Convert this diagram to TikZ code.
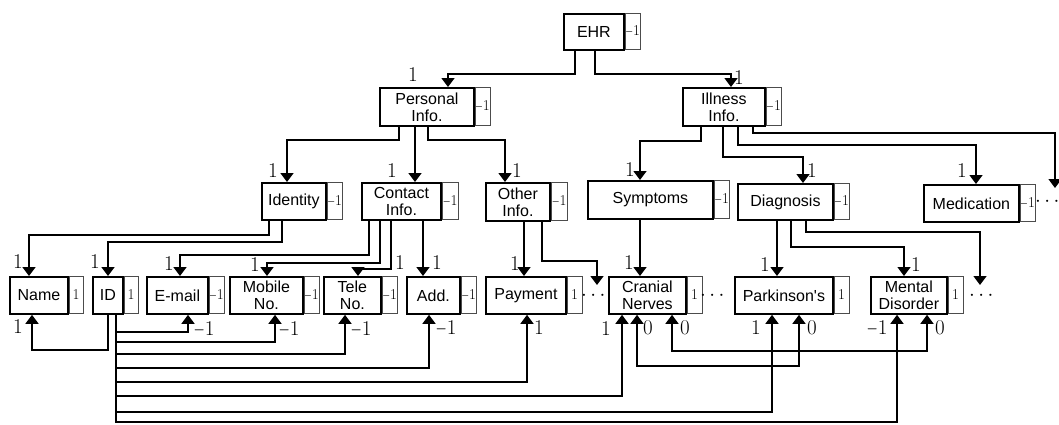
\documentclass[tikz,border=0pt]{standalone}
\usepackage{amsmath}
\usepackage{fontspec}
\newfontfamily\arialfont{Liberation Sans}
\usetikzlibrary{arrows.meta}
\newcommand{\mns}{\scalebox{0.7}[1]{$-$}}

\begin{document}
\begin{tikzpicture}[x=1pt, y=-1pt,
    box/.style={draw, line width=1.8pt, inner sep=0pt, align=center, anchor=north west, font=\arialfont\fontsize{16}{17}\selectfont},
    val/.style={draw=black!70, line width=0.7pt, inner sep=0pt, anchor=north west, font=\fontsize{15}{15}\selectfont},
    lbl/.style={inner sep=0pt, font=\fontsize{21}{21}\selectfont},
    arr/.style={line width=1.5pt, -{Triangle[width=13pt,length=9pt]}},
    biarr/.style={line width=1.5pt, {Triangle[width=13pt,length=9pt]}-{Triangle[width=13pt,length=9pt]}}]
    \useasboundingbox (0,0) rectangle (1059,424);

    % root
    \node [box, minimum width=60pt, minimum height=36pt] (ehr) at (563,13) {EHR};
    \node [val, minimum width=15pt, minimum height=36pt] (ehr-v) at (ehr.north east) {\mns1};

    % first level
    \node [box, minimum width=94pt, minimum height=38pt] (pers) at (379,87) {Personal\\Info.};
    \node [val, minimum width=14pt, minimum height=38pt] (pers-v) at (pers.north east) {\mns1};
    \node [box, minimum width=82pt, minimum height=38pt] (ill) at (682,87) {Illness\\Info.};
    \node [val, minimum width=14pt, minimum height=38pt] (ill-v) at (ill.north east) {\mns1};

    % second level
    \node [box, minimum width=64pt, minimum height=37pt] (ident) at (261,182) {Identity};
    \node [val, minimum width=15pt, minimum height=37pt] (ident-v) at (ident.north east) {\mns1};
    \node [box, minimum width=79pt, minimum height=37pt] (cont) at (361,182) {Contact\\Info.};
    \node [val, minimum width=16pt, minimum height=37pt] (cont-v) at (cont.north east) {\mns1};
    \node [box, minimum width=64pt, minimum height=38pt] (oth) at (485,182) {Other\\Info.};
    \node [val, minimum width=16pt, minimum height=38pt] (oth-v) at (oth.north east) {\mns1};
    \node [box, minimum width=125pt, minimum height=38pt] (symp) at (587,180) {Symptoms};
    \node [val, minimum width=15pt, minimum height=38pt] (symp-v) at (symp.north east) {\mns1};
    \node [box, minimum width=95pt, minimum height=36pt] (diag) at (737,183) {Diagnosis};
    \node [val, minimum width=14pt, minimum height=36pt] (diag-v) at (diag.north east) {\mns1};
    \node [box, minimum width=95pt, minimum height=37pt] (med) at (923,184) {Medication};
    \node [val, minimum width=14pt, minimum height=37pt] (med-v) at (med.north east) {\mns1};

    % third level
    \node [box, minimum width=58pt, minimum height=37pt] (name) at (9,276) {Name};
    \node [val, minimum width=14pt, minimum height=37pt] (name-v) at (name.north east) {1};
    \node [box, minimum width=30pt, minimum height=37pt] (id) at (92,276) {ID};
    \node [val, minimum width=14pt, minimum height=37pt] (id-v) at (id.north east) {1};
    \node [box, minimum width=61pt, minimum height=37pt] (email) at (146,276) {E-mail};
    \node [val, minimum width=14pt, minimum height=37pt] (email-v) at (email.north east) {\mns1};
    \node [box, minimum width=73pt, minimum height=37pt] (mob) at (229,276) {Mobile\\No.};
    \node [val, minimum width=14pt, minimum height=37pt] (mob-v) at (mob.north east) {\mns1};
    \node [box, minimum width=57pt, minimum height=37pt] (tele) at (323,276) {Tele\\No.};
    \node [val, minimum width=15pt, minimum height=37pt] (tele-v) at (tele.north east) {\mns1};
    \node [box, minimum width=53pt, minimum height=37pt] (add) at (406,276) {Add.};
    \node [val, minimum width=15pt, minimum height=37pt] (add-v) at (add.north east) {\mns1};
    \node [box, minimum width=80pt, minimum height=37pt] (pay) at (485,276) {Payment};
    \node [val, minimum width=15pt, minimum height=37pt] (pay-v) at (pay.north east) {1};
    \node [box, minimum width=77pt, minimum height=37pt] (cran) at (608,276) {Cranial\\Nerves};
    \node [val, minimum width=15pt, minimum height=37pt] (cran-v) at (cran.north east) {1};
    \node [box, minimum width=98pt, minimum height=37pt] (park) at (734,276) {Parkinson's};
    \node [val, minimum width=15pt, minimum height=37pt] (park-v) at (park.north east) {1};
    \node [box, minimum width=76pt, minimum height=37pt] (ment) at (870,276) {Mental\\Disorder};
    \node [val, minimum width=15pt, minimum height=37pt] (ment-v) at (ment.north east) {1};

    % dots
    \node [lbl] (dots-oth) at (595,296) {$\cdots$};
    \node [lbl] (dots-symp) at (714,296) {$\cdots$};
    \node [lbl] (dots-diag) at (983,296) {$\cdots$};
    \node [lbl] (dots-ill) at (1049,202) {$\cdots$};
    \coordinate (end-oth) at (597,285);
    \coordinate (end-diag) at (980,285);
    \coordinate (end-ill) at (1055,188);

    % tree edges
    \draw [arr] (ehr.south -| 575,0) -- (575,74) -| (pers.north -| 448,0);
    \draw [arr] (ehr.south -| 595,0) -- (595,74) -| (ill.north -| 731,0);
    \draw [arr] (pers.south -| 399,0) -- (399,140) -| (ident.north -| 287,0);
    \draw [arr] (pers.south -| 415,0) -- (cont.north -| 415,0);
    \draw [arr] (pers.south -| 428,0) -- (428,140) -| (oth.north -| 505,0);
    \draw [arr] (ill.south -| 701,0) -- (701,141) -| (symp.north -| 640,0);
    \draw [arr] (ill.south -| 723,0) -- (723,157) -| (diag.north -| 803,0);
    \draw [arr] (ill.south -| 738,0) -- (738,145) -| (med.north -| 976,0);
    \draw [arr] (ill.south -| 753,0) -- (753,133) -| (end-ill);
    \draw [arr] (ident.south -| 269,0) -- (269,235) -| (name.north -| 29,0);
    \draw [arr] (ident.south -| 282,0) -- (282,242) -| (id.north -| 108,0);
    \draw [arr] (cont.south -| 369,0) -- (369,255) -| (email.north -| 180,0);
    \draw [arr] (cont.south -| 380,0) -- (380,263) -| (mob.north -| 267,0);
    \draw [arr] (cont.south -| 391,0) -- (391,269) -| (tele.north -| 358,0);
    \draw [arr] (cont.south -| 423,0) -- (add.north -| 423,0);
    \draw [arr] (oth.south -| 524,0) -- (pay.north -| 524,0);
    \draw [arr] (oth.south -| 542,0) -- (542,261) -| (end-oth);
    \draw [arr] (symp.south -| 640,0) -- (cran.north -| 640,0);
    \draw [arr] (diag.south -| 777,0) -- (park.north -| 777,0);
    \draw [arr] (diag.south -| 791,0) -- (791,247) -| (ment.north -| 904,0);
    \draw [arr] (diag.south -| 806,0) -- (806,232) -| (end-diag);

    % links below
    \draw [arr] (id.south -| 108,0) -- (108,350) -| (name.south -| 32,0);
    \draw [arr] (id.south -| 116,0) -- (116,332) -| (email.south -| 188,0);
    \draw [arr] (id.south -| 116,0) -- (116,342) -| (mob.south -| 275,0);
    \draw [arr] (id.south -| 116,0) -- (116,354) -| (tele.south -| 345,0);
    \draw [arr] (id.south -| 116,0) -- (116,368) -| (add.south -| 429,0);
    \draw [arr] (id.south -| 116,0) -- (116,382) -| (pay.south -| 527,0);
    \draw [arr] (id.south -| 116,0) -- (116,396) -| (cran.south -| 622,0);
    \draw [arr] (id.south -| 116,0) -- (116,412) -| (park.south -| 772,0);
    \draw [arr] (id.south -| 116,0) -- (116,422) -| (ment.south -| 897,0);
    \draw [biarr] (cran.south -| 637,0) -- (637,366) -| (park.south -| 799,0);
    \draw [biarr] (cran.south -| 672,0) -- (672,351) -| (ment.south -| 927,0);

    % labels above
    \node [lbl] (t-pers) at (413,75) {1};
    \node [lbl] (t-ill) at (739,78) {1};
    \node [lbl] (t-ident) at (273,171) {1};
    \node [lbl] (t-cont) at (392,171) {1};
    \node [lbl] (t-oth) at (517,171) {1};
    \node [lbl] (t-symp) at (630,170) {1};
    \node [lbl] (t-diag) at (812,171) {1};
    \node [lbl] (t-med) at (962,171) {1};
    \node [lbl] (t-name) at (18,262) {1};
    \node [lbl] (t-id) at (95,262) {1};
    \node [lbl] (t-email) at (169,264) {1};
    \node [lbl] (t-mob) at (255,265) {1};
    \node [lbl] (t-tele) at (400,263) {1};
    \node [lbl] (t-add) at (437,263) {1};
    \node [lbl] (t-pay) at (515,264) {1};
    \node [lbl] (t-cran) at (629,263) {1};
    \node [lbl] (t-park) at (765,265) {1};
    \node [lbl] (t-ment) at (916,265) {1};

    % labels below
    \node [lbl] (b-name) at (18,327) {1};
    \node [lbl] (b-email) at (204,329) {\mns1};
    \node [lbl] (b-mob) at (289,329) {\mns1};
    \node [lbl] (b-tele) at (361,329) {\mns1};
    \node [lbl] (b-add) at (446,328) {\mns1};
    \node [lbl] (b-pay) at (539,328) {1};
    \node [lbl] (b-cran) at (606,329) {1};
    \node [lbl] (b-cran2) at (648,328) {0};
    \node [lbl] (b-cran3) at (685,328) {0};
    \node [lbl] (b-park) at (756,328) {1};
    \node [lbl] (b-park2) at (812,328) {0};
    \node [lbl] (b-ment) at (877,328) {\mns1};
    \node [lbl] (b-ment2) at (940,328) {0};
\end{tikzpicture}
\end{document}
